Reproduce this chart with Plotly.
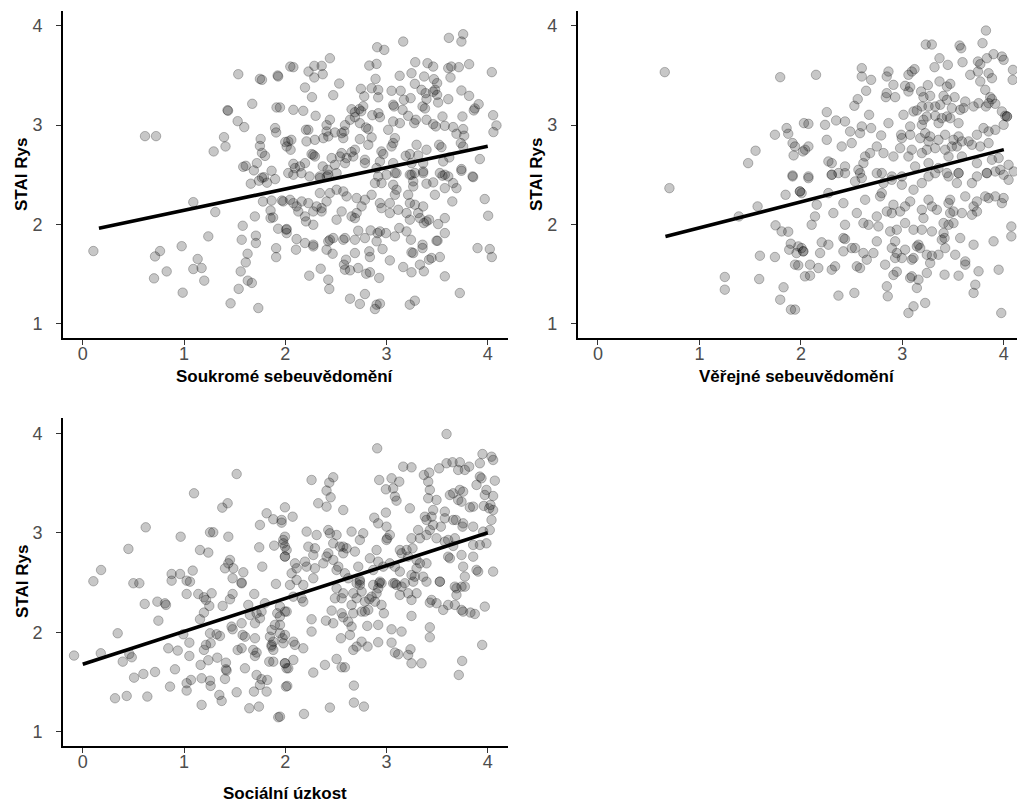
import plotly.graph_objects as go

# ---- Soukromé sebeuvědomění vs. STAI Rys (x, y) ----
soukrome_pts = [
    (1.536,3.513),(1.75,3.466),(1.77,3.456),(1.93,3.49),(1.925,3.50),(2.05,3.59),(1.674,3.215),(1.914,3.178),
    (1.43,3.15),(1.435,3.145),(1.53,3.04),(1.595,2.98),(0.615,2.889),(0.724,2.889),(1.395,2.879),(1.41,2.785),
    (1.293,2.735),(1.90,2.97),(1.91,2.926),(1.757,2.86),(1.75,2.79),(1.77,2.72),(1.80,2.69),(2.0,2.83),
    (1.72,2.617),(1.61,2.59),(1.585,2.58),(1.69,2.544),(1.865,2.54),(1.77,2.47),(1.79,2.475),
    (0.105,1.731),(1.092,2.224),(1.309,2.124),(1.66,2.41),(1.74,2.44),(1.82,2.42),(1.90,2.456),(1.78,2.23),
    (1.865,2.24),(1.967,2.24),(1.70,2.08),(1.855,2.14),(1.855,2.063),(1.88,2.07),(1.58,1.986),(1.24,1.879),
    (1.57,1.845),(1.71,1.886),(1.71,1.812),(1.93,1.956),(2.01,1.946),(0.977,1.78),(0.763,1.731),(0.714,1.677),
    (0.829,1.526),(0.704,1.456),(1.135,1.651),(1.092,1.55),(1.174,1.56),(1.20,1.433),(0.987,1.312),(1.628,1.704),
    (1.61,1.617),(1.56,1.526),(1.63,1.433),(1.67,1.41),(1.54,1.35),(1.46,1.204),(1.734,1.157),(1.91,1.76),(1.91,1.67),
    (3.616,3.879),(3.757,3.916),(3.74,3.842),(3.165,3.842),(2.908,3.785),(2.978,3.758),(2.441,3.674),(2.08,3.584),
    (2.23,3.54),(2.287,3.597),(2.36,3.597),(2.37,3.513),(2.287,3.48),(2.195,3.379),(2.264,3.282),(2.533,3.419),
    (2.474,3.302),(2.83,3.60),(2.902,3.617),(2.892,3.466),(2.747,3.366),(2.853,3.372),(2.78,3.29),(2.918,3.28),
    (2.918,3.355),(2.73,3.16),(2.75,3.14),(2.77,3.19),(2.86,3.10),(2.92,3.12),(2.935,3.08),(3.05,3.346),
    (3.14,3.346),(3.13,3.497),(3.066,3.205),(3.075,3.188),(3.247,3.523),(3.284,3.634),(3.405,3.624),(3.461,3.59),
    (3.372,3.49),(3.468,3.463),(3.50,3.423),(3.48,3.356),(3.46,3.336),(3.50,3.305),(3.61,3.574),(3.64,3.59),
    (3.714,3.584),(3.632,3.48),(3.816,3.614),(4.04,3.534),(3.74,3.349),(3.816,3.295),(3.28,3.416),(3.346,3.356),
    (3.386,3.322),(3.238,3.272),(3.172,3.255),(3.61,3.262),(3.51,3.228),(3.395,3.262),(3.356,3.188),(3.38,3.168),
    (3.91,3.211),(3.872,3.168),(3.862,3.148),(3.75,3.087),(4.053,3.10),(4.086,2.997),(4.056,2.93),(3.159,3.154),
    (3.214,3.094),(3.29,3.054),(3.274,3.02),(3.395,3.054),(3.461,3.01),(3.487,2.987),(3.576,2.993),(3.553,3.087),
    (3.658,2.98),(3.691,2.913),(3.757,2.96),(3.767,2.893),(3.066,3.037),(3.132,3.02),(3.017,2.953),(3.083,2.869),
    (3.066,2.819),(3.05,2.785),(3.297,2.802),(3.231,2.708),(3.313,2.695),(3.395,2.752),(3.52,2.802),(3.543,2.778),
    (3.734,2.819),(3.757,2.785),(3.922,2.658),(3.85,2.483),(3.74,2.557),(3.62,2.674),(3.56,2.634),(3.527,2.517),
    (3.576,2.50),(3.61,2.483),(3.362,2.617),(3.362,2.517),(3.19,2.691),(3.247,2.617),(3.28,2.517),(3.23,2.50),
    (2.95,2.735),(2.968,2.708),(2.935,2.634),(2.902,2.567),(2.918,2.483),(3.066,2.617),(3.083,2.517),(3.0,2.50),
    (2.64,3.054),(2.688,3.08),(2.737,3.02),(2.797,2.976),(2.82,2.96),(2.59,3.0),(2.583,2.936),(2.573,2.869),
    (2.737,2.859),(2.688,2.752),(2.655,2.728),(2.672,2.684),(2.853,2.876),(2.82,2.802),(2.787,2.651),(2.787,2.617),
    (2.606,2.668),(2.59,2.617),(2.54,2.684),(2.557,2.718),(2.458,2.668),(2.49,2.60),(2.418,2.55),(2.37,2.584),
    (2.342,2.483),(2.41,2.483),(2.26,2.708),(2.277,2.70),(2.293,2.684),(2.195,2.617),(2.145,2.584),(2.08,2.61),
    (2.096,2.567),(2.03,2.517),(2.08,2.50),(2.06,2.852),(2.03,2.836),(2.053,2.752),(2.014,2.785),(2.293,2.852),
    (2.21,2.836),(2.205,2.953),(2.228,2.953),(2.30,3.094),(2.441,3.054),(2.408,3.0),(2.408,2.936),(2.425,2.886),
    (2.376,2.869),(2.08,3.154),(2.178,3.144),(1.948,3.178),(2.49,2.926),(2.557,2.919),(2.655,3.16),(2.688,3.13),
    (2.16,2.516),(2.24,2.483),(3.856,2.476),(3.97,2.255),(4.004,2.087),(3.899,1.761),(4.02,1.751),(4.04,1.671),
    (3.724,1.308),(3.576,1.476),(3.65,2.231),(3.576,2.063),(3.576,1.912),(3.504,1.835),(3.478,2.298),(3.576,2.365),
    (3.658,2.416),(3.691,2.365),(3.395,2.41),(3.461,2.423),(3.553,2.49),(3.362,2.181),(3.33,2.063),(3.369,2.013),
    (3.395,2.03),(3.42,2.047),(3.51,2.003),(3.494,1.835),(3.527,1.671),(3.445,1.661),(3.42,1.644),(3.356,1.795),
    (3.356,1.761),(3.247,1.718),(3.264,1.711),(3.33,1.594),(3.369,1.527),(3.247,1.517),(3.165,1.57),(3.23,1.191),
    (3.28,1.231),(2.902,1.191),(2.886,1.147),(2.935,1.201),(2.737,1.198),(2.64,1.251),(2.787,1.298),(2.435,1.349),
    (2.425,1.443),(2.35,1.553),(2.237,1.483),(2.60,1.644),(2.58,1.594),(2.59,1.543),(2.64,1.537),(2.72,1.56),
    (2.80,1.503),(2.836,1.517),(2.928,1.46),(2.836,1.671),(2.83,1.728),(2.688,1.711),(3.033,1.637),(2.961,1.751),
    (3.241,1.845),(3.198,1.929),(3.231,2.047),(3.198,2.114),(3.28,2.198),(3.126,1.963),(3.083,1.879),(2.994,1.912),
    (2.912,1.912),(2.935,1.929),(2.902,1.829),(2.843,1.939),(2.787,1.862),(2.721,1.936),(2.688,1.845),(2.59,1.862),
    (2.573,1.845),(2.474,1.862),(2.425,1.829),(2.441,1.845),(2.408,1.745),(2.468,1.704),(2.277,1.795),(2.277,1.778),
    (2.195,1.812),(2.112,1.852),(2.106,1.745),(2.014,1.953),(2.014,1.912),(2.205,2.03),(2.277,1.996),(2.195,2.08),
    (2.277,2.13),(2.359,2.13),(2.359,2.164),(2.31,2.181),(2.228,2.214),(2.162,2.231),(2.112,2.181),(2.129,2.13),
    (2.047,2.248),(1.981,2.231),(2.08,2.214),(2.507,2.047),(2.557,2.13),(2.606,2.282),(2.573,2.332),(2.507,2.349),
    (2.705,2.265),(2.787,2.248),(2.754,2.181),(2.655,2.08),(2.688,2.063),(2.705,2.114),(2.441,2.315),(2.408,2.231),
    (2.342,2.315),(2.425,2.50),(2.507,2.516),(2.342,2.466),(2.853,2.298),(2.935,2.214),(2.951,2.164),(3.033,2.114),
    (3.116,2.147),(3.083,2.298),(3.033,2.214),(3.099,2.349),(3.066,2.399),(2.951,2.416),(2.886,2.416),(3.099,2.516),
    (3.247,2.50),(3.264,2.433),(3.362,2.533),(3.264,2.382),(3.214,2.298),(3.231,2.214),(3.313,2.114),(3.74,2.54),
]

# ---- Věřejné sebeuvědomění vs. STAI Rys ----
verejne_pts = [
    (0.658,3.534),(1.796,3.483),(1.859,2.97),(1.875,2.913),(1.744,2.903),(1.918,2.819),(1.553,2.742),(1.48,2.617),
    (1.928,2.695),(2.03,3.02),(2.02,2.735),(1.918,2.493),(0.704,2.365),(1.918,2.483),(1.849,2.298),(1.99,2.332),
    (2.007,2.315),(1.573,2.181),(1.388,2.08),(1.75,1.99),(1.81,1.929),(1.875,1.926),(1.90,1.805),(1.885,1.745),
    (1.957,1.711),(2.007,1.761),(2.023,1.728),(1.596,1.684),(1.744,1.671),(1.974,1.587),(1.25,1.47),(1.25,1.342),
    (1.589,1.449),(1.829,1.366),(1.796,1.241),(1.902,1.141),(2.04,1.476),
    (3.824,3.953),(3.79,3.826),(3.231,3.812),(3.29,3.812),(3.564,3.802),(3.58,3.775),(3.366,3.674),(3.448,3.607),
    (3.317,3.584),(3.593,3.634),(3.745,3.641),(3.768,3.614),(3.833,3.674),(3.899,3.715),(3.981,3.691),(3.998,3.658),
    (4.09,3.557),(4.087,3.456),(3.669,3.507),(3.745,3.54),(3.85,3.523),(3.883,3.473),(3.768,3.44),(3.817,3.356),
    (3.866,3.282),(3.85,3.221),(2.149,3.507),(2.60,3.574),(2.60,3.49),(2.692,3.456),(2.643,3.346),(2.56,3.262),
    (2.527,3.195),(2.863,3.54),(2.846,3.49),(2.912,3.406),(2.846,3.322),(2.837,3.282),(2.929,3.282),(3.06,3.507),
    (3.093,3.54),(3.12,3.564),(3.077,3.383),(3.06,3.339),(3.027,3.396),(3.185,3.339),(3.251,3.403),(3.208,3.282),
    (3.274,3.295),(3.192,3.188),(3.258,3.188),(3.324,3.188),(3.373,3.205),(3.366,3.44),(3.439,3.389),(3.472,3.416),
    (3.515,3.282),(3.406,3.295),(3.439,3.255),(3.62,3.238),(3.702,3.188),(3.751,3.221),(3.824,3.188),(3.883,3.262),
    (3.916,3.215),(3.981,3.138),(4.014,3.094),(4.031,3.087),(3.488,3.171),(3.57,3.154),(3.603,3.171),(3.472,3.07),
    (3.439,3.087),(3.554,3.02),(3.324,3.094),(3.389,3.07),(3.357,3.02),(3.241,3.087),(3.208,3.054),(3.192,3.003),
    (3.011,3.104),(3.11,3.138),(3.143,3.148),(2.255,3.131),(2.347,3.047),(2.435,3.037),(2.238,3.003),(2.074,3.013),
    (2.485,2.936),(2.60,2.987),(2.583,2.919),(2.692,2.97),(2.672,3.104),(2.791,2.896),(2.863,3.02),(2.988,2.903),
    (3.077,2.987),(3.077,2.903),(2.995,2.869),(3.176,2.869),(3.225,2.919),(3.274,2.886),(3.258,2.836),(3.356,2.852),
    (3.324,2.768),(3.241,2.752),(3.192,2.718),(3.422,2.903),(3.504,2.852),(3.554,2.886),(3.587,2.836),(3.537,2.785),
    (3.488,2.785),(3.422,2.752),(3.455,2.684),(3.653,2.836),(3.686,2.802),(3.735,2.903),(3.80,2.97),(3.85,2.936),
    (3.916,2.953),(3.998,3.003),(4.031,3.087),(3.768,2.785),(3.85,2.819),(3.949,2.668),(3.883,2.651),(4.047,2.60),
    (4.097,2.533),(3.965,2.55),(3.833,2.517),(3.735,2.617),(3.587,2.684),(3.554,2.517),(3.439,2.517),(3.356,2.567),
    (3.258,2.617),(3.126,2.584),(3.06,2.684),(3.093,2.752),(2.978,2.768),(2.912,2.684),(2.814,2.718),(2.748,2.785),
    (2.682,2.718),(2.633,2.684),(2.616,2.617),(2.567,2.55),(2.501,2.819),(2.402,2.785),(2.271,2.634),(2.304,2.617),
    (2.435,2.584),(2.37,2.517),(2.304,2.50),(2.074,2.785),(2.041,2.752),(1.942,2.785),(2.255,2.852),(2.074,2.483),
    (2.797,2.517),(2.896,2.483),(2.995,2.483),
    (2.074,2.466),(2.304,2.50),(2.435,2.516),(2.583,2.516),(2.60,2.466),(2.534,2.433),(2.748,2.516),(2.814,2.416),
    (2.896,2.449),(2.995,2.399),(3.11,2.349),(3.192,2.416),(3.258,2.483),(3.324,2.516),(3.455,2.483),(3.554,2.516),
    (3.537,2.416),(3.686,2.416),(3.735,2.483),(3.833,2.516),(3.916,2.533),(3.998,2.50),(4.047,2.449),(1.991,2.332),
    (2.156,2.198),(2.139,2.08),(2.106,1.996),(1.975,1.778),(2.024,1.728),(1.942,1.594),(2.09,1.594),(2.09,1.483),
    (2.172,1.56),(2.189,1.711),(2.205,1.819),(2.271,1.795),(2.32,2.114),(2.271,2.315),(2.419,2.214),(2.435,1.996),
    (2.419,1.862),(2.435,1.852),(2.304,1.543),(2.337,1.577),(2.37,1.282),(2.527,1.309),(2.551,1.577),(2.583,1.56),
    (2.534,1.761),(2.616,1.711),(2.649,1.644),(2.501,1.761),(2.419,1.728),(2.551,2.114),(2.633,2.248),(2.616,2.013),
    (2.666,1.996),(2.748,2.08),(2.764,1.979),(2.748,1.829),(2.715,1.711),(2.83,1.594),(2.847,1.376),(2.856,1.275),
    (2.797,2.315),(2.781,2.282),(2.847,2.13),(2.912,2.198),(2.896,2.114),(2.978,2.13),(3.027,2.181),(3.077,2.231),
    (2.88,1.929),(2.945,1.946),(2.929,1.829),(2.896,1.761),(2.945,1.711),(2.929,1.661),(2.995,1.661),(3.027,1.745),
    (3.027,2.013),(3.11,1.946),(2.912,1.49),(2.945,1.523),(3.077,1.46),(3.093,1.476),(3.143,1.359),(3.159,1.443),
    (3.06,1.107),(3.11,1.174),(3.225,1.208),(3.241,1.51),(3.093,1.644),(3.11,1.661),(3.143,1.778),(3.176,1.761),
    (3.159,1.795),(3.208,2.063),(3.192,2.147),(3.258,2.248),(3.291,2.181),(3.34,2.147),(3.192,1.946),(3.291,1.929),
    (3.241,1.694),(3.274,1.61),(3.291,1.684),(3.356,1.694),(3.389,1.845),(3.416,1.862),(3.422,1.761),(3.406,1.912),
    (3.406,2.013),(3.455,1.996),(3.504,2.013),(3.471,2.114),(3.504,2.13),(3.455,2.214),(3.471,2.248),(3.587,2.114),
    (3.686,2.097),(3.735,2.13),(3.702,2.181),(3.62,2.282),(3.735,2.231),(3.817,2.282),(3.85,2.265),(3.916,2.282),
    (3.981,2.214),(3.998,2.265),(3.57,1.862),(3.702,1.795),(3.521,1.694),(3.62,1.627),(3.62,1.594),(3.554,1.483),
    (3.416,1.493),(3.751,1.527),(3.719,1.392),(3.702,1.309),(3.899,1.829),(3.949,1.543),(4.074,1.979),(4.074,1.879),
    (3.975,1.107),(1.942,1.141),
]

# ---- Sociální úzkost vs. STAI Rys ----
uzkost_pts = [
    (1.52,3.591),(1.099,3.397),(1.378,3.253),(1.431,3.297),(0.622,3.055),(0.967,2.961),(1.257,3.005),(1.289,3.005),
    (1.438,2.961),(0.451,2.838),(1.158,2.827),(1.24,2.801),(0.181,2.626),(0.105,2.513),(0.50,2.493),(0.559,2.493),
    (0.878,2.586),(0.878,2.519),(0.961,2.586),(1.026,2.519),(1.059,2.509),(1.086,2.62),(1.454,2.727),(1.438,2.693),
    (1.405,2.643),(1.487,2.643),(1.586,2.603),(1.569,2.499),(1.48,2.543),(1.75,3.079),(1.816,3.196),(1.882,3.136),
    (1.964,3.129),(1.964,3.102),(1.997,3.256),(1.743,2.854),(1.891,2.871),(1.98,2.928),(1.997,2.861),(1.997,2.761),
    (1.773,2.66),(1.908,2.486),
    (-0.086,1.766),(0.178,1.789),(0.345,1.99),(0.395,1.705),(0.46,1.782),(0.484,1.749),(0.507,1.544),(0.599,1.581),
    (0.714,1.601),(0.319,1.337),(0.434,1.36),(0.638,1.354),(0.612,2.285),(0.737,2.308),(0.822,2.275),(0.812,2.291),
    (0.747,2.117),(0.845,1.839),(0.938,1.816),(1.053,1.762),(1.053,1.896),(0.993,1.98),(0.911,1.628),(0.862,1.454),
    (1.026,1.488),(1.026,1.414),(1.069,1.521),(1.174,1.538),(1.257,1.514),(1.263,1.461),(1.174,1.27),(1.164,1.672),
    (1.24,1.719),(1.329,1.745),(1.414,1.695),(1.421,1.615),(1.414,1.628),(1.349,1.37),(1.372,1.31),(1.405,1.531),
    (1.52,1.397),(1.197,1.823),(1.217,1.873),(1.263,1.89),(1.355,1.963),(1.257,1.99),(1.026,2.385),(1.141,2.385),
    (1.197,2.352),(1.217,2.325),(1.273,2.392),(1.158,2.131),(1.197,2.198),(1.25,2.265),(1.382,2.265),(1.454,2.332),
    (1.48,2.385),(1.569,2.492),(1.322,1.98),(1.47,2.057),(1.48,2.03),(1.569,2.091),(1.635,2.275),(1.694,2.385),
    (1.651,2.174),(1.717,2.191),(1.701,2.091),(1.75,2.141),(1.799,2.292),(1.766,2.208),(1.579,1.973),(1.602,1.956),
    (1.569,1.839),(1.53,1.822),(1.701,1.94),(1.684,1.822),(1.717,1.796),(1.701,1.762),(1.849,1.956),(1.865,2.023),
    (1.898,2.074),(1.921,2.191),(1.947,2.158),(1.997,2.208),(1.947,1.99),(1.974,1.94),(1.882,1.906),(1.865,1.856),
    (1.882,1.823),(1.865,1.873),(1.842,1.705),(1.882,1.705),(1.997,1.689),(2.013,1.638),(1.602,1.638),(1.717,1.571),
    (1.766,1.528),(1.75,1.471),(1.822,1.521),(1.816,1.404),(1.691,1.404),(1.645,1.236),(1.74,1.253),(1.931,1.146),
    (2.007,1.454),
    (3.593,3.993),(2.908,3.849),(3.165,3.665),(3.247,3.658),(2.26,3.531),(2.474,3.558),(2.435,3.504),(2.408,3.424),
    (2.448,3.357),(2.326,3.297),(2.408,3.263),(2.573,3.229),(2.073,3.162),(2.928,3.531),(2.994,3.437),(3.05,3.548),
    (3.066,3.447),(3.126,3.514),(3.083,3.364),(3.099,3.323),(3.231,3.246),(2.879,3.152),(2.918,3.095),(2.994,3.203),
    (3.0,3.062),(3.007,2.945),(3.033,2.978),(3.0,2.928),(3.369,3.581),(3.422,3.605),(3.412,3.514),(3.428,3.431),
    (3.494,3.33),(3.412,3.347),(3.461,3.229),(3.379,3.162),(3.395,3.129),(3.52,3.648),(3.593,3.699),(3.652,3.709),
    (3.724,3.709),(3.708,3.632),(3.774,3.632),(3.816,3.665),(3.922,3.699),(3.948,3.792),(4.037,3.765),(4.053,3.732),
    (4.07,3.524),(3.626,3.38),(3.659,3.397),(3.724,3.431),(3.757,3.414),(3.708,3.33),(3.741,3.313),(3.922,3.565),
    (3.938,3.548),(3.889,3.481),(3.987,3.431),(3.971,3.38),(4.053,3.37),(4.027,3.28),(4.014,3.246),(4.053,3.229),
    (3.961,3.27),(3.856,3.263),(3.823,3.256),(3.576,3.213),(3.576,3.146),(3.685,3.129),(3.751,3.062),(3.757,3.095),
    (3.856,3.062),(3.955,3.012),(4.037,3.129),(4.02,3.028),(3.445,3.162),(3.461,3.079),(3.428,3.028),(3.537,3.062),
    (3.494,2.945),(3.395,2.978),(3.313,3.028),(3.33,2.945),(3.247,2.945),(3.257,2.844),(3.198,2.827),(3.149,2.794),
    (3.214,2.76),(3.659,3.129),(3.675,2.945),(3.609,2.928),(3.576,2.911),(3.659,2.868),(3.609,2.76),(3.626,2.744),
    (3.741,2.777),(3.757,2.66),(3.856,2.878),(3.922,2.878),(3.987,2.894),(3.889,2.627),(3.905,2.61),(4.053,2.61),
    (3.856,2.76),(3.774,2.56),(3.774,2.459),(3.691,2.442),(3.527,2.509),(3.297,2.727),(3.33,2.693),(3.395,2.693),
    (3.297,2.643),(3.247,2.576),(3.28,2.559),(3.362,2.559),(3.132,2.61),(3.083,2.66),(3.033,2.693),(3.132,2.827),
    (2.902,2.827),(2.836,2.744),(2.918,2.71),(2.968,2.66),(2.869,2.626),(2.935,2.509),(2.951,2.493),(2.869,2.476),
    (3.066,2.493),(3.099,2.476),(3.181,2.493),(2.721,2.66),(2.737,2.526),(2.705,2.493),(2.622,2.543),(2.589,2.593),
    (2.507,2.626),(2.524,2.66),(2.474,2.727),(2.425,2.794),(2.408,2.761),(2.376,2.693),(2.293,2.643),(2.425,3.028),
    (2.441,2.995),(2.507,2.978),(2.573,2.861),(2.606,2.844),(2.655,3.012),(2.77,2.995),(2.737,2.928),(2.688,2.811),
    (2.573,2.794),(2.54,2.861),(2.474,2.894),(2.31,2.978),(2.293,2.844),(2.277,2.777),(2.211,3.012),(2.228,2.861),
    (1.997,2.961),(1.981,2.894),(2.014,2.827),(1.997,2.761),(2.096,2.693),(2.112,2.643),(2.195,2.71),(2.211,2.66),
    (2.277,2.543),(2.063,2.593),(2.112,2.526),(2.178,2.476),(2.047,2.476),
    (1.948,2.258),(2.014,2.208),(1.948,2.074),(1.997,1.973),(1.981,1.89),(2.08,1.906),(2.096,1.873),(2.178,1.839),
    (2.08,1.722),(1.997,1.688),(2.03,1.638),(2.02,1.461),(1.948,1.152),(2.178,2.308),(2.162,2.342),(2.08,2.358),
    (2.26,2.131),(2.26,2.007),(2.277,1.595),(2.392,1.672),(2.402,2.117),(2.474,2.091),(2.458,2.218),(2.491,2.342),
    (2.557,2.342),(2.573,2.392),(2.507,2.442),(2.507,1.732),(2.557,1.648),(2.589,1.648),(2.55,1.94),(2.639,1.973),
    (2.655,2.057),(2.622,2.107),(2.573,2.151),(2.557,2.191),(2.655,2.275),(2.672,2.191),(2.705,2.342),(2.672,2.392),
    (2.754,2.409),(2.737,2.476),(2.737,2.509),(2.672,1.823),(2.705,1.856),(2.754,1.906),(2.813,1.856),(2.81,2.064),
    (2.918,2.074),(2.918,1.90),(2.678,1.464),(2.678,1.293),(2.777,1.253),(2.441,1.243),(2.185,1.179),(2.787,2.208),
    (2.82,2.225),(2.787,2.308),(2.83,2.332),(2.853,2.358),(2.886,2.308),(2.902,2.392),(2.928,2.493),(2.918,2.442),
    (2.951,2.275),(2.974,2.191),(2.754,2.208),(3.05,2.03),(3.05,1.896),(3.083,1.796),(3.116,1.779),(3.149,2.007),
    (3.214,1.772),(3.237,1.829),(3.247,1.688),(3.346,1.688),(3.247,2.164),(3.247,2.325),(3.297,2.392),(3.214,2.392),
    (3.149,2.459),(3.083,2.493),(3.132,2.375),(3.264,2.509),(3.395,2.509),(3.527,2.509),(3.428,2.298),(3.445,2.325),
    (3.428,2.05),(3.428,1.95),(3.494,2.292),(3.56,2.225),(3.609,2.275),(3.675,2.275),(3.691,2.375),(3.675,2.459),
    (3.741,2.459),(3.741,2.225),(3.757,2.208),(3.829,2.198),(3.872,2.184),(3.971,2.258),(3.945,1.873),(3.747,1.712),
    (3.714,1.571),
]

# regression lines: (x_start, x_end, intercept, slope)
fit_soukrome = (0.16, 4.0, 1.927, 0.2148)
fit_verejne = (0.665, 4.0, 1.702, 0.2628)
fit_uzkost = (0.0, 4.0, 1.678, 0.3305)

x_titles = ["Soukromé sebeuvědomění", "Věřejné sebeuvědomění", "Sociální úzkost"]
y_title = "STAI Rys"
tick_vals = [0, 1, 2, 3, 4]
y_tick_vals = [1, 2, 3, 4]

FONT = "Arial, 'Liberation Sans', sans-serif"
W, H = 1017, 805

fig = go.Figure()

panels = [
    (soukrome_pts, fit_soukrome, "x", "y"),
    (verejne_pts, fit_verejne, "x2", "y2"),
    (uzkost_pts, fit_uzkost, "x3", "y3"),
]

for pts, fit, xa, ya in panels:
    px_, py_ = zip(*pts)
    fig.add_trace(go.Scatter(
        x=list(px_), y=list(py_), mode="markers", xaxis=xa, yaxis=ya,
        marker=dict(size=9.5, color="rgba(0,0,0,0.22)",
                    line=dict(color="rgba(0,0,0,0.25)", width=1)),
        hoverinfo="skip", showlegend=False, cliponaxis=False,
    ))
    x0, x1, b0, b1 = fit
    fig.add_trace(go.Scatter(
        x=[x0, x1], y=[b0 + b1 * x0, b0 + b1 * x1], mode="lines",
        xaxis=xa, yaxis=ya, line=dict(color="black", width=3.6),
        hoverinfo="skip", showlegend=False,
    ))

def px2paper_x(p):
    return p / W

def px2paper_y(p):
    return 1 - p / H

axis_common = dict(
    showgrid=False, zeroline=False, showline=True, linecolor="black", linewidth=1.6,
    ticks="outside", ticklen=5, tickwidth=1.3, tickcolor="#333333",
    tickfont=dict(family=FONT, size=18, color="#4d4d4d"), mirror=False,
)
x_common = dict(axis_common, ticklabelstandoff=-6)
y_common = dict(axis_common, ticklabelstandoff=10)

top_dom = [px2paper_y(338), px2paper_y(11)]
bot_dom = [px2paper_y(745.7), px2paper_y(418.4)]
left_dom = [px2paper_x(63), px2paper_x(508)]
right_dom = [px2paper_x(577.7), 1.0]

fig.update_layout(
    width=W, height=H, margin=dict(l=0, r=0, t=0, b=0),
    paper_bgcolor="white", plot_bgcolor="white",
    xaxis=dict(domain=left_dom, range=[-0.195, 4.2], tickvals=tick_vals, anchor="y", **x_common),
    yaxis=dict(domain=top_dom, range=[0.855, 4.15], tickvals=y_tick_vals, anchor="x", **y_common),
    xaxis2=dict(domain=right_dom, range=[-0.2, 4.13], tickvals=tick_vals, anchor="y2", **x_common),
    yaxis2=dict(domain=top_dom, range=[0.855, 4.15], tickvals=y_tick_vals, anchor="x2", **y_common),
    xaxis3=dict(domain=left_dom, range=[-0.195, 4.2], tickvals=tick_vals, anchor="y3", **x_common),
    yaxis3=dict(domain=bot_dom, range=[0.86, 4.15], tickvals=y_tick_vals, anchor="x3", **y_common),
)

title_font = dict(family=FONT, size=17, color="black")
annotations = [
    dict(text="<b>%s</b>" % x_titles[0], x=px2paper_x(285), y=px2paper_y(377)),
    dict(text="<b>%s</b>" % x_titles[1], x=px2paper_x(797), y=px2paper_y(377)),
    dict(text="<b>%s</b>" % x_titles[2], x=px2paper_x(285), y=px2paper_y(793)),
    dict(text="<b>%s</b>" % y_title, x=px2paper_x(22), y=px2paper_y(175), textangle=-90),
    dict(text="<b>%s</b>" % y_title, x=px2paper_x(537), y=px2paper_y(175), textangle=-90),
    dict(text="<b>%s</b>" % y_title, x=px2paper_x(22), y=px2paper_y(582), textangle=-90),
]
for a in annotations:
    a.update(xref="paper", yref="paper", showarrow=False, font=title_font,
             xanchor="center", yanchor="middle")
fig.update_layout(annotations=annotations)

fig.write_html("out.html")
